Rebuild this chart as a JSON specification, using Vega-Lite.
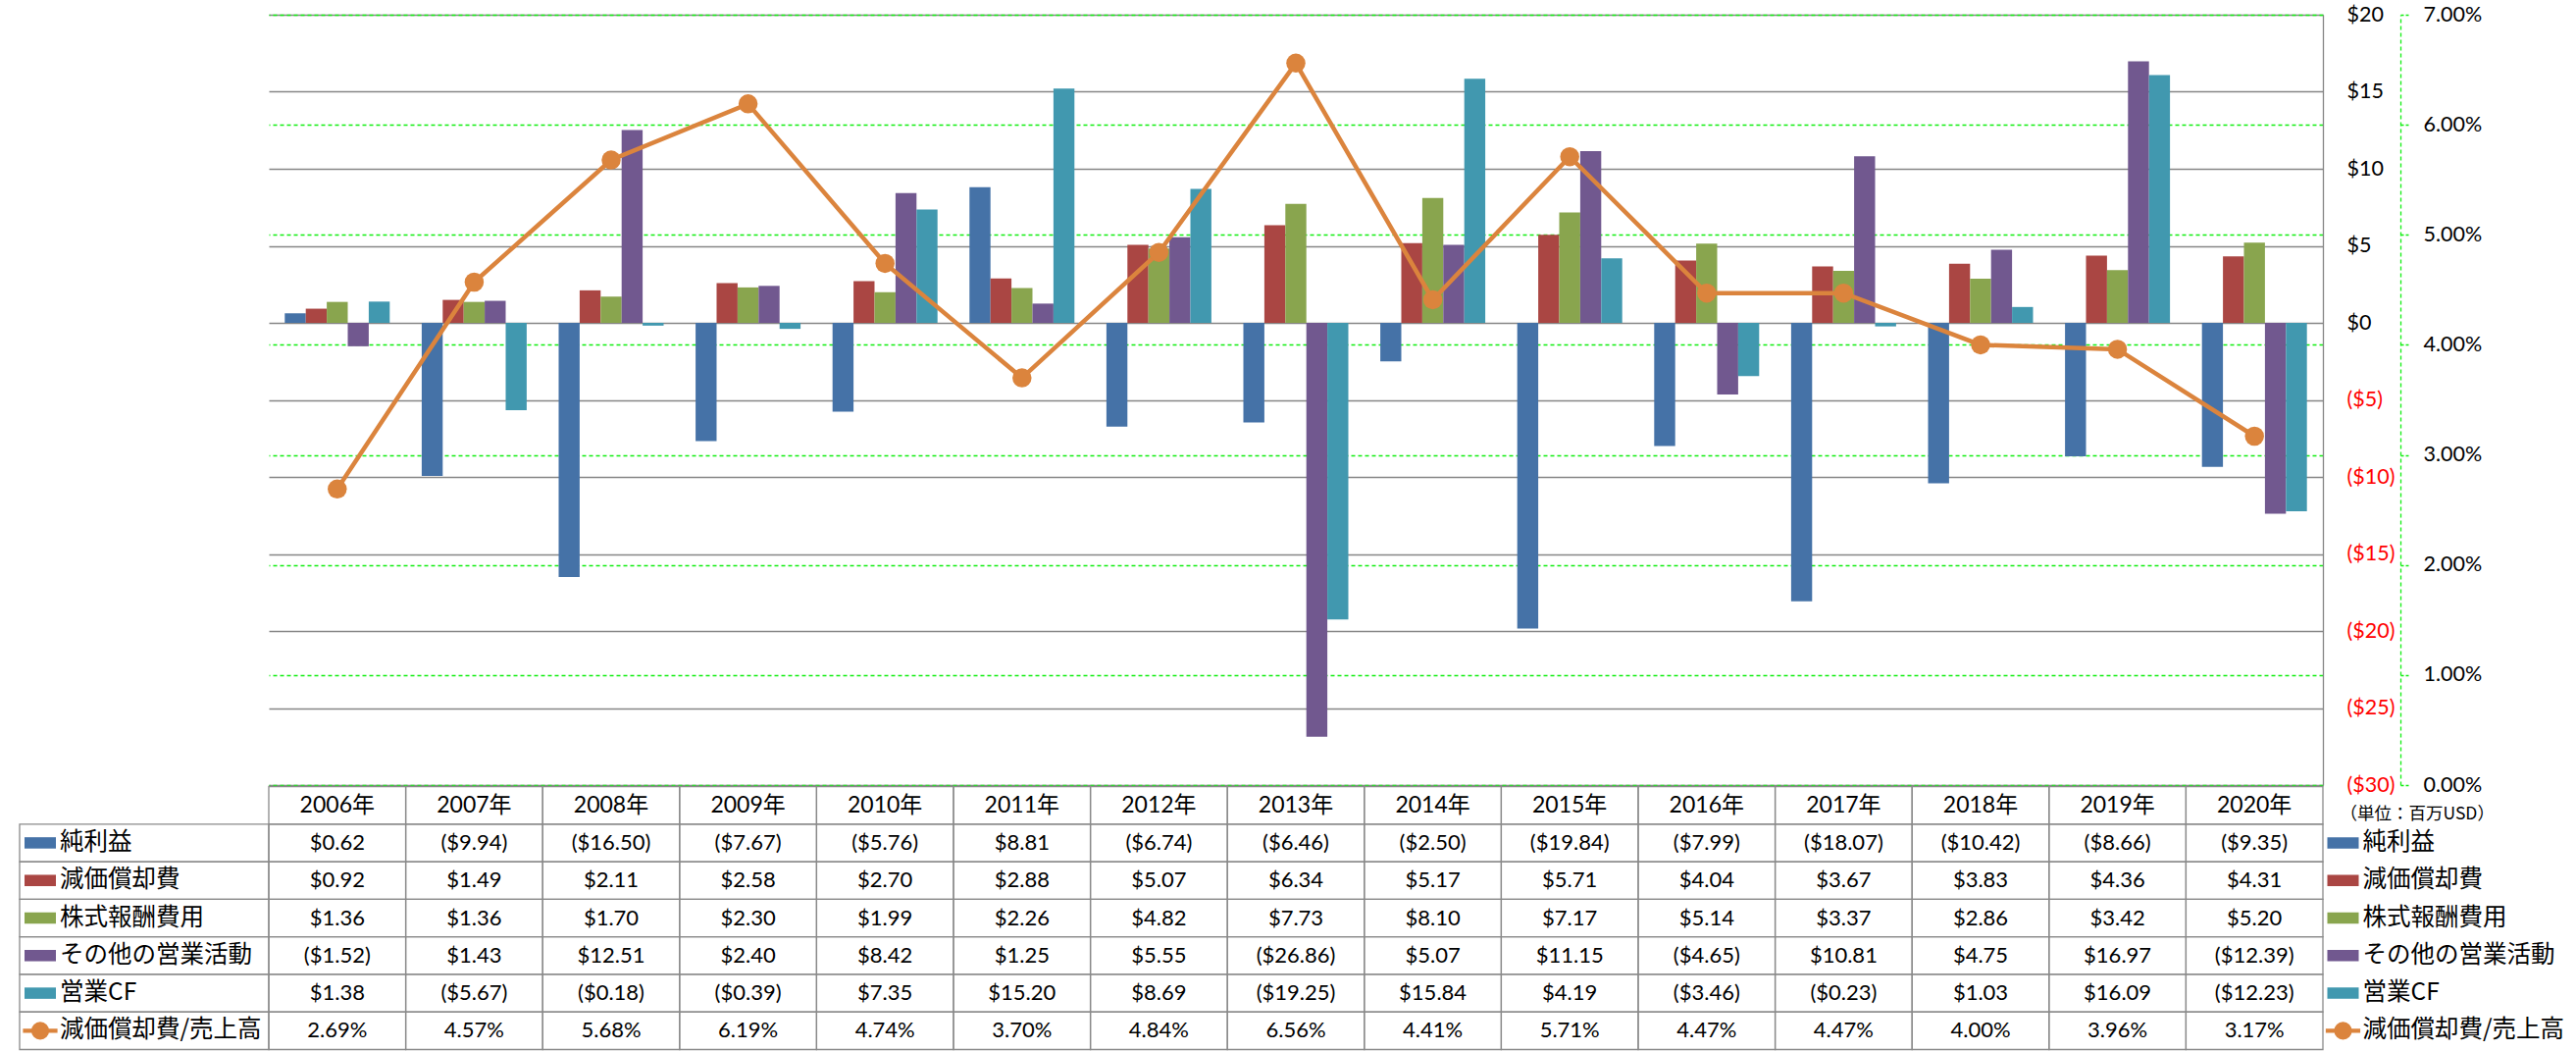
{
  "$schema": "https://vega.github.io/schema/vega-lite/v6.json",
  "width": 2094,
  "height": 1055,
  "autosize": {"type": "none"},
  "padding": {"left": 274, "top": 15, "right": 258, "bottom": 1},
  "background": "white",
  "config": {
    "view": {"stroke": null},
    "font": "Lato, Noto Sans CJK JP",
    "axis": {"labelFont": "Lato", "labelFontSize": 21.5, "labelColor": "#000000", "title": null}
  },
  "datasets": {
    "cf": [
      {"year": "2006年", "series": "純利益", "value": 0.62},
      {"year": "2007年", "series": "純利益", "value": -9.94},
      {"year": "2008年", "series": "純利益", "value": -16.50},
      {"year": "2009年", "series": "純利益", "value": -7.67},
      {"year": "2010年", "series": "純利益", "value": -5.76},
      {"year": "2011年", "series": "純利益", "value": 8.81},
      {"year": "2012年", "series": "純利益", "value": -6.74},
      {"year": "2013年", "series": "純利益", "value": -6.46},
      {"year": "2014年", "series": "純利益", "value": -2.50},
      {"year": "2015年", "series": "純利益", "value": -19.84},
      {"year": "2016年", "series": "純利益", "value": -7.99},
      {"year": "2017年", "series": "純利益", "value": -18.07},
      {"year": "2018年", "series": "純利益", "value": -10.42},
      {"year": "2019年", "series": "純利益", "value": -8.66},
      {"year": "2020年", "series": "純利益", "value": -9.35},
      {"year": "2006年", "series": "減価償却費", "value": 0.92},
      {"year": "2007年", "series": "減価償却費", "value": 1.49},
      {"year": "2008年", "series": "減価償却費", "value": 2.11},
      {"year": "2009年", "series": "減価償却費", "value": 2.58},
      {"year": "2010年", "series": "減価償却費", "value": 2.70},
      {"year": "2011年", "series": "減価償却費", "value": 2.88},
      {"year": "2012年", "series": "減価償却費", "value": 5.07},
      {"year": "2013年", "series": "減価償却費", "value": 6.34},
      {"year": "2014年", "series": "減価償却費", "value": 5.17},
      {"year": "2015年", "series": "減価償却費", "value": 5.71},
      {"year": "2016年", "series": "減価償却費", "value": 4.04},
      {"year": "2017年", "series": "減価償却費", "value": 3.67},
      {"year": "2018年", "series": "減価償却費", "value": 3.83},
      {"year": "2019年", "series": "減価償却費", "value": 4.36},
      {"year": "2020年", "series": "減価償却費", "value": 4.31},
      {"year": "2006年", "series": "株式報酬費用", "value": 1.36},
      {"year": "2007年", "series": "株式報酬費用", "value": 1.36},
      {"year": "2008年", "series": "株式報酬費用", "value": 1.70},
      {"year": "2009年", "series": "株式報酬費用", "value": 2.30},
      {"year": "2010年", "series": "株式報酬費用", "value": 1.99},
      {"year": "2011年", "series": "株式報酬費用", "value": 2.26},
      {"year": "2012年", "series": "株式報酬費用", "value": 4.82},
      {"year": "2013年", "series": "株式報酬費用", "value": 7.73},
      {"year": "2014年", "series": "株式報酬費用", "value": 8.10},
      {"year": "2015年", "series": "株式報酬費用", "value": 7.17},
      {"year": "2016年", "series": "株式報酬費用", "value": 5.14},
      {"year": "2017年", "series": "株式報酬費用", "value": 3.37},
      {"year": "2018年", "series": "株式報酬費用", "value": 2.86},
      {"year": "2019年", "series": "株式報酬費用", "value": 3.42},
      {"year": "2020年", "series": "株式報酬費用", "value": 5.20},
      {"year": "2006年", "series": "その他の営業活動", "value": -1.52},
      {"year": "2007年", "series": "その他の営業活動", "value": 1.43},
      {"year": "2008年", "series": "その他の営業活動", "value": 12.51},
      {"year": "2009年", "series": "その他の営業活動", "value": 2.40},
      {"year": "2010年", "series": "その他の営業活動", "value": 8.42},
      {"year": "2011年", "series": "その他の営業活動", "value": 1.25},
      {"year": "2012年", "series": "その他の営業活動", "value": 5.55},
      {"year": "2013年", "series": "その他の営業活動", "value": -26.86},
      {"year": "2014年", "series": "その他の営業活動", "value": 5.07},
      {"year": "2015年", "series": "その他の営業活動", "value": 11.15},
      {"year": "2016年", "series": "その他の営業活動", "value": -4.65},
      {"year": "2017年", "series": "その他の営業活動", "value": 10.81},
      {"year": "2018年", "series": "その他の営業活動", "value": 4.75},
      {"year": "2019年", "series": "その他の営業活動", "value": 16.97},
      {"year": "2020年", "series": "その他の営業活動", "value": -12.39},
      {"year": "2006年", "series": "営業CF", "value": 1.38},
      {"year": "2007年", "series": "営業CF", "value": -5.67},
      {"year": "2008年", "series": "営業CF", "value": -0.18},
      {"year": "2009年", "series": "営業CF", "value": -0.39},
      {"year": "2010年", "series": "営業CF", "value": 7.35},
      {"year": "2011年", "series": "営業CF", "value": 15.20},
      {"year": "2012年", "series": "営業CF", "value": 8.69},
      {"year": "2013年", "series": "営業CF", "value": -19.25},
      {"year": "2014年", "series": "営業CF", "value": 15.84},
      {"year": "2015年", "series": "営業CF", "value": 4.19},
      {"year": "2016年", "series": "営業CF", "value": -3.46},
      {"year": "2017年", "series": "営業CF", "value": -0.23},
      {"year": "2018年", "series": "営業CF", "value": 1.03},
      {"year": "2019年", "series": "営業CF", "value": 16.09},
      {"year": "2020年", "series": "営業CF", "value": -12.23}
    ],
    "ratio": [
      {"year": "2006年", "ratio": 0.0269},
      {"year": "2007年", "ratio": 0.0457},
      {"year": "2008年", "ratio": 0.0568},
      {"year": "2009年", "ratio": 0.0619},
      {"year": "2010年", "ratio": 0.0474},
      {"year": "2011年", "ratio": 0.0370},
      {"year": "2012年", "ratio": 0.0484},
      {"year": "2013年", "ratio": 0.0656},
      {"year": "2014年", "ratio": 0.0441},
      {"year": "2015年", "ratio": 0.0571},
      {"year": "2016年", "ratio": 0.0447},
      {"year": "2017年", "ratio": 0.0447},
      {"year": "2018年", "ratio": 0.0400},
      {"year": "2019年", "ratio": 0.0396},
      {"year": "2020年", "ratio": 0.0317}
    ],
    "keys": [
      {"series": "純利益", "side": "左"},
      {"series": "減価償却費", "side": "左"},
      {"series": "株式報酬費用", "side": "左"},
      {"series": "その他の営業活動", "side": "左"},
      {"series": "営業CF", "side": "左"},
      {"series": "減価償却費/売上高", "side": "左"},
      {"series": "純利益", "side": "右"},
      {"series": "減価償却費", "side": "右"},
      {"series": "株式報酬費用", "side": "右"},
      {"series": "その他の営業活動", "side": "右"},
      {"series": "営業CF", "side": "右"},
      {"series": "減価償却費/売上高", "side": "右"}
    ]
  },
  "resolve": {"scale": {"x": "independent", "y": "independent"}},
  "layer": [
    {
      "data": {"name": "cf"},
      "mark": {"type": "bar"},
      "encoding": {
        "x": {"field": "year", "type": "nominal", "sort": null,
          "scale": {"type": "band", "domain": ["2006年","2007年","2008年","2009年","2010年","2011年","2012年","2013年","2014年","2015年","2016年","2017年","2018年","2019年","2020年"], "paddingInner": 0.2335, "paddingOuter": 0.11675},
          "axis": null},
        "xOffset": {"field": "series", "type": "nominal",
          "scale": {"domain": ["純利益","減価償却費","株式報酬費用","その他の営業活動","営業CF"], "paddingInner": 0, "paddingOuter": 0}},
        "y": {"field": "value", "type": "quantitative",
          "scale": {"domain": [-30, 20], "range": [785, 0], "nice": false, "zero": false},
          "axis": {"orient": "right", "values": [-30,-25,-20,-15,-10,-5,0,5,10,15,20], "format": "($d",
            "grid": true, "gridColor": "#868686", "gridWidth": 1.3,
            "domain": true, "domainColor": "#868686", "domainWidth": 1.3,
            "ticks": false, "tickSize": 0, "labelPadding": 24, "labelAlign": "left", "labelBaseline": "middle",
            "labelColor": {"condition": {"test": "datum.value < 0", "value": "#FF0000"}, "value": "#000000"}}},
        "color": {"field": "series", "type": "nominal",
          "scale": {"domain": ["純利益","減価償却費","株式報酬費用","その他の営業活動","営業CF","減価償却費/売上高"], "range": ["#4572A7","#AA4643","#89A54E","#71588F","#4198AF","#DB843D"]},
          "legend": null}
      }
    },
    {
      "data": {"name": "ratio"},
      "encoding": {
        "x": {"field": "year", "type": "nominal", "sort": null,
          "scale": {"type": "point", "domain": ["2006年","2007年","2008年","2009年","2010年","2011年","2012年","2013年","2014年","2015年","2016年","2017年","2018年","2019年","2020年"], "padding": 0.5},
          "axis": null},
        "y": {"field": "ratio", "type": "quantitative",
          "scale": {"domain": [0, 0.07], "range": [785, 0], "nice": false, "zero": false},
          "axis": {"orient": "right", "offset": 79, "values": [0,0.01,0.02,0.03,0.04,0.05,0.06,0.07], "format": ".2%",
            "grid": true, "gridColor": "#11EE11", "gridDash": [4, 3], "gridWidth": 1.3,
            "domain": true, "domainColor": "#11EE11", "domainDash": [4, 3], "domainWidth": 1.3,
            "ticks": true, "tickColor": "#11EE11", "tickSize": 8, "tickWidth": 1.3, "tickDash": [3, 2],
            "labelPadding": 15, "labelAlign": "left", "labelBaseline": "middle"}}
      },
      "layer": [
        {"mark": {"type": "line", "color": "#DB843D", "strokeWidth": 4.5}},
        {"mark": {"type": "point", "shape": "circle", "filled": true, "size": 380, "color": "#DB843D", "opacity": 1}}
      ]
    },
    {
      "resolve": {"scale": {"x": "independent"}},
      "layer": [
        {
          "encoding": {
            "x": {"field": "year", "type": "nominal", "sort": null,
              "scale": {"type": "band", "domain": ["2006年","2007年","2008年","2009年","2010年","2011年","2012年","2013年","2014年","2015年","2016年","2017年","2018年","2019年","2020年"], "paddingInner": 0, "paddingOuter": 0},
              "axis": null}
          },
          "layer": [
            {
              "data": {"name": "cf"},
              "mark": {"type": "rect", "filled": false, "color": "#8A8A8A", "strokeWidth": 1.3},
              "encoding": {
                "y": {"field": "series", "type": "nominal",
                  "scale": {"type": "band", "domain": ["header","純利益","減価償却費","株式報酬費用","その他の営業活動","営業CF","減価償却費/売上高"], "range": [786.5, 1054.5], "paddingInner": 0, "paddingOuter": 0},
                  "axis": null}
              }
            },
            {
              "data": {"name": "ratio"},
              "mark": {"type": "rect", "filled": false, "color": "#8A8A8A", "strokeWidth": 1.3},
              "encoding": {"y": {"datum": "減価償却費/売上高", "type": "nominal"}}
            },
            {
              "data": {"name": "ratio"},
              "mark": {"type": "rect", "filled": false, "color": "#8A8A8A", "strokeWidth": 1.3},
              "encoding": {"y": {"datum": "header", "type": "nominal"}}
            },
            {
              "data": {"name": "cf"},
              "mark": {"type": "text", "font": "Lato", "fontSize": 22, "color": "#000000", "baseline": "middle", "align": "center"},
              "encoding": {
                "y": {"field": "series", "type": "nominal"},
                "text": {"field": "value", "type": "quantitative", "format": "($.2f"}
              }
            },
            {
              "data": {"name": "ratio"},
              "mark": {"type": "text", "font": "Lato", "fontSize": 22, "color": "#000000", "baseline": "middle", "align": "center"},
              "encoding": {
                "y": {"datum": "減価償却費/売上高", "type": "nominal"},
                "text": {"field": "ratio", "type": "quantitative", "format": ".2%"}
              }
            },
            {
              "data": {"name": "ratio"},
              "mark": {"type": "text", "font": "Lato, Noto Sans CJK JP", "fontSize": 23, "color": "#000000", "baseline": "middle", "align": "center"},
              "encoding": {
                "y": {"datum": "header", "type": "nominal"},
                "text": {"field": "year", "type": "nominal"}
              }
            }
          ]
        },
        {
          "data": {"name": "keys"},
          "transform": [{"filter": {"field": "side", "equal": "左"}}],
          "mark": {"type": "rect", "filled": false, "color": "#8A8A8A", "strokeWidth": 1.3},
          "encoding": {
            "x": {"datum": "凡例", "type": "nominal",
              "scale": {"type": "band", "domain": ["凡例"], "range": [-254, 0], "paddingInner": 0, "paddingOuter": 0},
              "axis": null},
            "y": {"field": "series", "type": "nominal"}
          }
        },
        {
          "encoding": {
            "x": {"field": "side", "type": "nominal",
              "scale": {"type": "point", "domain": ["左", "右"], "range": [-233, 2114.5], "padding": 0},
              "axis": null}
          },
          "layer": [
            {
              "data": {"name": "keys"},
              "mark": {"type": "point", "filled": true, "opacity": 1, "size": 1024, "strokeWidth": 0},
              "encoding": {
                "y": {"field": "series", "type": "nominal"},
                "shape": {"field": "series", "type": "nominal",
                  "scale": {"domain": ["純利益","減価償却費","株式報酬費用","その他の営業活動","営業CF","減価償却費/売上高"],
                    "range": ["M-1,-0.36H1V0.36H-1Z","M-1,-0.36H1V0.36H-1Z","M-1,-0.36H1V0.36H-1Z","M-1,-0.36H1V0.36H-1Z","M-1,-0.36H1V0.36H-1Z","M-1.1,-0.13H1.1V0.13H-1.1Z"]},
                  "legend": null},
                "color": {"field": "series", "type": "nominal", "legend": null}
              }
            },
            {
              "data": {"name": "keys"},
              "transform": [{"filter": {"field": "series", "equal": "減価償却費/売上高"}}],
              "mark": {"type": "point", "shape": "circle", "filled": true, "opacity": 1, "size": 330, "color": "#DB843D"},
              "encoding": {"y": {"field": "series", "type": "nominal"}}
            },
            {
              "data": {"name": "keys"},
              "mark": {"type": "text", "font": "Noto Sans CJK JP", "fontSize": 24.5, "color": "#000000", "align": "left", "baseline": "middle", "dx": 20},
              "encoding": {
                "y": {"field": "series", "type": "nominal"},
                "text": {"field": "series", "type": "nominal"}
              }
            },
            {
              "data": {"values": [{"note": "（単位：百万USD）", "side": "右"}]},
              "mark": {"type": "text", "font": "Noto Sans CJK JP", "fontSize": 17.5, "color": "#000000", "align": "left", "baseline": "middle", "dx": -3, "dy": 9},
              "encoding": {
                "y": {"datum": "header", "type": "nominal"},
                "text": {"field": "note", "type": "nominal"}
              }
            }
          ]
        }
      ]
    }
  ]
}
